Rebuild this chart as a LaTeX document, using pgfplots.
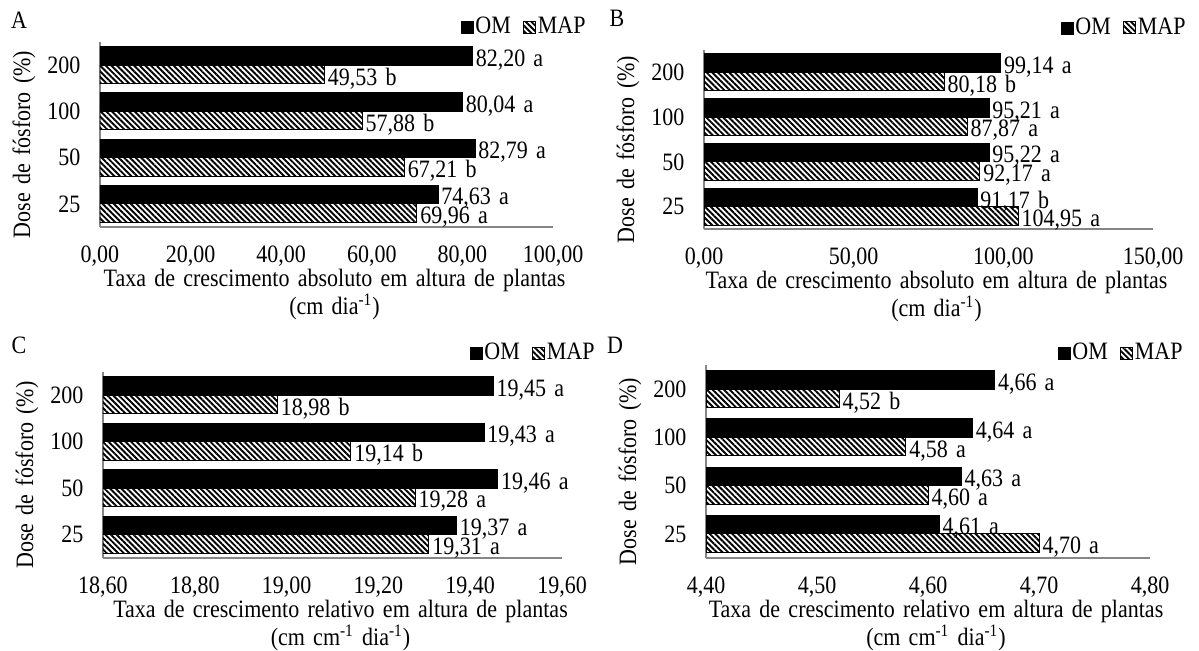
\documentclass[border=0pt]{standalone}
\usepackage{fontspec}
\setmainfont{Liberation Serif}[FakeStretch=0.88, WordSpace=1.5]
\usepackage{pgfplots}
\pgfplotsset{compat=1.18}
\usetikzlibrary{patterns.meta}
\definecolor{eixo}{HTML}{868686}

\pgfplotsset{
  painel/.style={
    xbar, scale only axis, anchor=south west,
    axis x line*=bottom, axis y line*=left,
    axis line style={draw=eixo, line width=0.75pt},
    major tick length=0pt,
    ymin=-0.5, ymax=3.5,
    ytick={0,1,2,3}, yticklabels={25,50,100,200},
    bar width=9.25pt,
    point meta=explicit symbolic,
    nodes near coords,
    every node near coord/.append style={anchor=west, inner sep=1.5pt, yshift=-2pt, text=black},
    xticklabel style={inner sep=0pt, yshift=-9.2pt, /pgf/number format/.cd, fixed, fixed zerofill, precision=2, use comma, 1000 sep={}, assume math mode=true},
    yticklabel style={xshift=-5.5pt},
    ylabel={Dose de fósforo (\%)},
    ylabel style={at={([xshift=-38pt,yshift=-5pt]axis description cs:0,0.5)}, anchor=center},
    xlabel style={at={([xshift=4pt,yshift=-21pt]axis description cs:0.5,0)}, anchor=north, align=center,
      inner sep=0pt, font=\fontsize{12.5}{12.5}\selectfont},
    legend columns=2,
    legend style={draw=none, fill=none, inner sep=0pt, at={(1,1)}, anchor=east,
      nodes={inner sep=1pt}, /tikz/every even column/.append style={column sep=5pt}},
    legend image code/.code={\draw[##1] (0pt,-3pt) rectangle (6pt,3pt);},
  },
  om/.style={fill=black, draw=black, bar shift=4.625pt},
  map/.style={pattern={Lines[angle=-45,distance=2pt,line width=0.95pt]}, pattern color=black,
    draw=black, line width=0.5pt, bar shift=-4.625pt},
}

\begin{document}
\fontsize{12.5}{12.5}\selectfont
\begin{tikzpicture}
\useasboundingbox (0,0) rectangle (599.5pt,325pt);

% A
\begin{axis}[painel, at={(50pt,211.5pt)}, width=226.5pt, height=92.5pt,
  xmin=0, xmax=100, xtick={0,20,...,100},
  xlabel={Taxa de crescimento absoluto em altura de plantas\\(cm dia\textsuperscript{-1})},
  legend style={xshift=17.5pt, yshift=7.5pt},
  extra description/.code={\node at ([xshift=-40.5pt,yshift=11pt]0,1) {A};}]
\addplot[om] coordinates {(74.63,0) [{74,63 a}] (82.79,1) [{82,79 a}] (80.04,2) [{80,04 a}] (82.20,3) [{82,20 a}]};
\addplot[map] coordinates {(69.96,0) [{69,96 a}] (67.21,1) [{67,21 b}] (57.88,2) [{57,88 b}] (49.53,3) [{49,53 b}]};
\legend{OM,MAP}
\end{axis}

% B
\begin{axis}[painel, at={(352pt,210.5pt)}, width=224.5pt, height=89.5pt,
  xmin=0, xmax=150, xtick={0,50,100,150},
  xlabel={Taxa de crescimento absoluto em altura de plantas\\(cm dia\textsuperscript{-1})},
  legend style={xshift=17.5pt, yshift=11pt},
  extra description/.code={\node at ([xshift=-43.5pt,yshift=16pt]0,1) {B};}]
\addplot[om] coordinates {(91.17,0) [{91,17 b}] (95.22,1) [{95,22 a}] (95.21,2) [{95,21 a}] (99.14,3) [{99,14 a}]};
\addplot[map] coordinates {(104.95,0) [{104,95 a}] (92.17,1) [{92,17 a}] (87.87,2) [{87,87 a}] (80.18,3) [{80,18 b}]};
\legend{OM,MAP}
\end{axis}

% C
\begin{axis}[painel, at={(51.5pt,46pt)}, width=229.5pt, height=93pt,
  xmin=18.6, xmax=19.6, xtick={18.6,18.8,19.0,19.2,19.4,19.6},
  xlabel={Taxa de crescimento relativo em altura de plantas\\(cm cm\textsuperscript{-1} dia\textsuperscript{-1})},
  legend style={xshift=17.5pt, yshift=9.5pt},
  extra description/.code={\node at ([xshift=-42pt,yshift=13.5pt]0,1) {C};}]
\addplot[om] coordinates {(19.37,0) [{19,37 a}] (19.46,1) [{19,46 a}] (19.43,2) [{19,43 a}] (19.45,3) [{19,45 a}]};
\addplot[map] coordinates {(19.31,0) [{19,31 a}] (19.28,1) [{19,28 a}] (19.14,2) [{19,14 b}] (18.98,3) [{18,98 b}]};
\legend{OM,MAP}
\end{axis}

% D
\begin{axis}[painel, at={(353pt,46pt)}, width=222pt, height=96.5pt,
  xmin=4.4, xmax=4.8, xtick={4.4,4.5,4.6,4.7,4.8},
  xlabel={Taxa de crescimento relativo em altura de plantas\\(cm cm\textsuperscript{-1} dia\textsuperscript{-1})},
  legend style={xshift=17.5pt, yshift=6pt},
  extra description/.code={\node at ([xshift=-45.5pt,yshift=10pt]0,1) {D};}]
\addplot[om] coordinates {(4.61,0) [{4,61 a}] (4.63,1) [{4,63 a}] (4.64,2) [{4,64 a}] (4.66,3) [{4,66 a}]};
\addplot[map] coordinates {(4.70,0) [{4,70 a}] (4.60,1) [{4,60 a}] (4.58,2) [{4,58 a}] (4.52,3) [{4,52 b}]};
\legend{OM,MAP}
\end{axis}
\end{tikzpicture}
\end{document}
